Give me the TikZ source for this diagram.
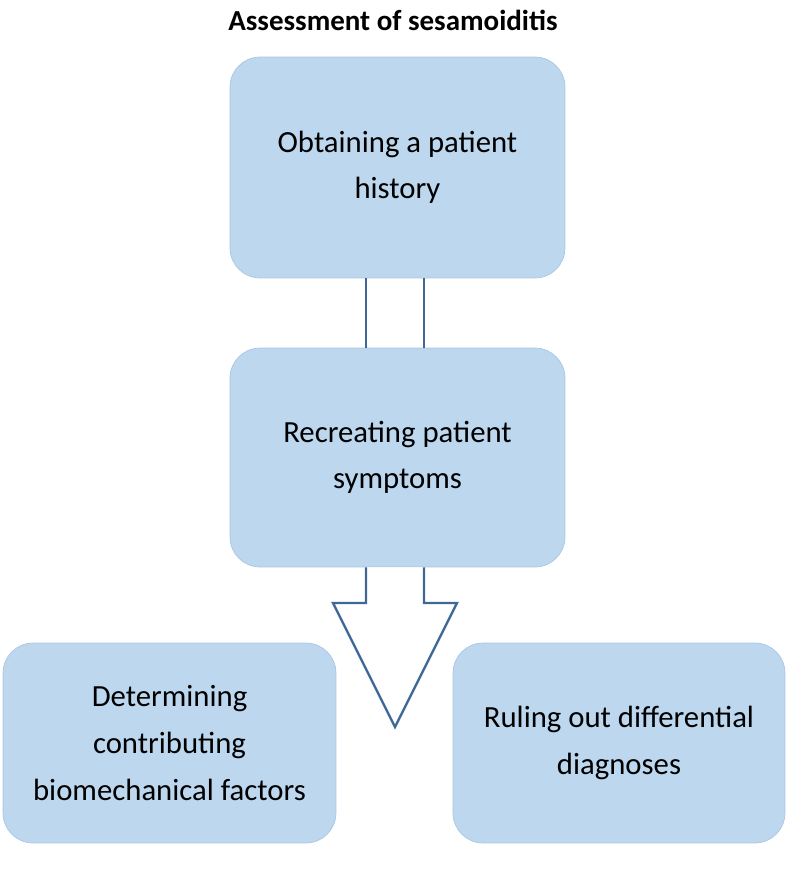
\documentclass[tikz,border=0pt]{standalone}
\usepackage{fontspec}
\setmainfont{Carlito}
\definecolor{boxfill}{HTML}{BDD7EE}
\definecolor{boxedge}{HTML}{A9C6E4}
\definecolor{arrowedge}{HTML}{3F6896}
\begin{document}
\begin{tikzpicture}[x=0.02cm,y=-0.02cm,
  box/.style={draw=boxedge,fill=boxfill,rounded corners=0.6cm,align=center,
    font=\fontsize{17.5}{26.5}\selectfont},
  arr/.style={draw=arrowedge,line width=1.3pt,fill=white}]
\useasboundingbox (0,0) rectangle (786,870);
\node[font=\fontsize{16.5}{19}\selectfont\bfseries] (title) at (393,20) {Assessment of sesamoiditis};
\node[box,minimum width=6.7cm,minimum height=4.42cm] (hist) at (397.5,167.5) {Obtaining a patient\\history};
\node[box,minimum width=6.7cm,minimum height=4.38cm] (symp) at (397.5,457.5) {Recreating patient\\symptoms};
\node[box,minimum width=6.66cm,minimum height=4cm] (bio) at (169.5,743) {Determining\\contributing\\biomechanical factors};
\node[box,minimum width=6.64cm,minimum height=4cm] (diff) at (619,743) {Ruling out differential\\diagnoses};
\draw[draw=arrowedge,line width=1.3pt] (366,0 |- hist.south) -- (366,0 |- symp.north);
\draw[draw=arrowedge,line width=1.3pt] (424,0 |- hist.south) -- (424,0 |- symp.north);
\coordinate (tip) at (395,727);
\draw[arr] (366,0 |- symp.south) -- (366,603) -- (333,603) -- (tip) -- (457,603) -- (424,603) -- (424,0 |- symp.south);
\end{tikzpicture}
\end{document}
